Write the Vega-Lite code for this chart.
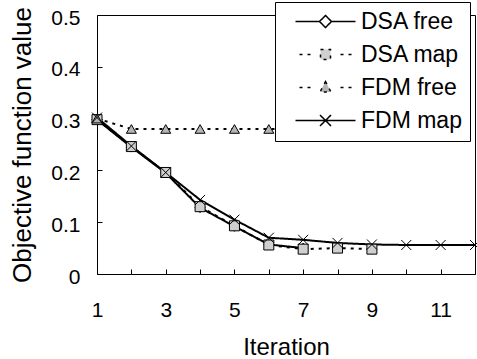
{
  "$schema": "https://vega.github.io/schema/vega-lite/v6.json",
  "width": 378,
  "height": 259,
  "autosize": "none",
  "padding": {"left": 97, "top": 15, "right": 2, "bottom": 85},
  "background": "white",
  "config": {
    "font": "Liberation Sans",
    "view": {"stroke": "black", "strokeWidth": 1},
    "axis": {
      "grid": false,
      "domain": false,
      "tickColor": "black",
      "tickSize": -5,
      "labelColor": "black",
      "titleColor": "black",
      "labelFontSize": 21,
      "titleFontSize": 24,
      "titleFontWeight": "normal",
      "labelFlush": false,
      "labelOverlap": false,
      "labelBound": false
    }
  },
  "data": {
    "values": [
      {"it": 1, "series": "DSA free", "v": 0.298},
      {"it": 2, "series": "DSA free", "v": 0.245},
      {"it": 3, "series": "DSA free", "v": 0.195},
      {"it": 4, "series": "DSA free", "v": 0.128},
      {"it": 5, "series": "DSA free", "v": 0.092},
      {"it": 6, "series": "DSA free", "v": 0.057},
      {"it": 7, "series": "DSA free", "v": 0.05},
      {"it": 1, "series": "DSA map", "v": 0.298},
      {"it": 2, "series": "DSA map", "v": 0.246},
      {"it": 3, "series": "DSA map", "v": 0.196},
      {"it": 4, "series": "DSA map", "v": 0.13},
      {"it": 5, "series": "DSA map", "v": 0.093},
      {"it": 6, "series": "DSA map", "v": 0.056},
      {"it": 7, "series": "DSA map", "v": 0.048},
      {"it": 8, "series": "DSA map", "v": 0.05},
      {"it": 9, "series": "DSA map", "v": 0.048},
      {"it": 1, "series": "FDM free", "v": 0.3},
      {"it": 2, "series": "FDM free", "v": 0.28},
      {"it": 3, "series": "FDM free", "v": 0.28},
      {"it": 4, "series": "FDM free", "v": 0.28},
      {"it": 5, "series": "FDM free", "v": 0.28},
      {"it": 6, "series": "FDM free", "v": 0.28},
      {"it": 7, "series": "FDM free", "v": 0.28},
      {"it": 8, "series": "FDM free", "v": 0.28},
      {"it": 9, "series": "FDM free", "v": 0.28},
      {"it": 10, "series": "FDM free", "v": 0.28},
      {"it": 1, "series": "FDM map", "v": 0.302},
      {"it": 2, "series": "FDM map", "v": 0.247},
      {"it": 3, "series": "FDM map", "v": 0.196},
      {"it": 4, "series": "FDM map", "v": 0.143},
      {"it": 5, "series": "FDM map", "v": 0.105},
      {"it": 6, "series": "FDM map", "v": 0.07},
      {"it": 7, "series": "FDM map", "v": 0.066},
      {"it": 8, "series": "FDM map", "v": 0.06},
      {"it": 9, "series": "FDM map", "v": 0.057},
      {"it": 10, "series": "FDM map", "v": 0.056},
      {"it": 11, "series": "FDM map", "v": 0.056},
      {"it": 12, "series": "FDM map", "v": 0.056}
    ]
  },
  "encoding": {
    "x": {
      "field": "it",
      "type": "quantitative",
      "title": "Iteration",
      "scale": {"domain": [1, 12], "nice": false},
      "axis": {
        "values": [1, 2, 3, 4, 5, 6, 7, 8, 9, 10, 11, 12],
        "labelExpr": "datum.value % 2 == 1 ? datum.label : ''",
        "labelPadding": 30,
        "titlePadding": 15
      }
    },
    "y": {
      "field": "v",
      "type": "quantitative",
      "title": "Objective function value",
      "scale": {"domain": [0, 0.5], "nice": false},
      "axis": {
        "values": [0, 0.1, 0.2, 0.3, 0.4, 0.5],
        "format": "~g",
        "labelPadding": 22,
        "labelOffset": 3,
        "titlePadding": 15,
        "titleFontSize": 26
      }
    }
  },
  "layer": [
    {
      "mark": {"type": "line", "color": "black", "strokeWidth": 2},
      "encoding": {
        "strokeDash": {
          "field": "series",
          "type": "nominal",
          "title": null,
          "scale": {
            "domain": ["DSA free", "DSA map", "FDM free", "FDM map"],
            "range": [[1, 0], [3, 5], [3, 5], [1, 0]]
          },
          "legend": {
            "orient": "none",
            "legendX": 178,
            "legendY": -13,
            "title": null,
            "strokeColor": "black",
            "fillColor": "white",
            "padding": 8,
            "labelFontSize": 23,
            "labelColor": "black",
            "symbolSize": 400,
            "symbolOffset": 31,
            "labelOffset": 24,
            "rowPadding": 9,
            "symbolStrokeWidth": 1.5,
            "symbolStrokeColor": "black",
            "encode": {
              "symbols": {
                "update": {
                  "size": {"value": 400},
                  "stroke": {"value": "black"},
                  "strokeWidth": {"value": 1.5},
                  "shape": {"signal": "datum.value === 'DSA free' ? 'M-3,0H-0.6M0.6,0H3M-0.6,0L0,-0.6L0.6,0L0,0.6Z' : datum.value === 'DSA map' ? 'M-2.6,0h0.3M-1.8,0h0.3M1.5,0h0.3M2.3,0h0.3M-0.5,-0.5H0.5V0.5H-0.5Z' : datum.value === 'FDM free' ? 'M-2.6,0h0.3M-1.8,0h0.3M1.5,0h0.3M2.3,0h0.3M0,-0.6L0.55,0.45H-0.55Z' : 'M-3,0H3M-0.55,-0.55L0.55,0.55M-0.55,0.55L0.55,-0.55'"},
                  "fill": {"signal": "datum.value === 'DSA free' ? 'white' : datum.value === 'DSA map' ? '#cfcfcf' : datum.value === 'FDM free' ? '#b5b5b5' : 'transparent'"}
                }
              }
            }
          }
        }
      }
    },
    {
      "mark": {"type": "point", "filled": true, "stroke": "black", "strokeWidth": 1, "size": 100, "opacity": 1},
      "encoding": {
        "fill": {
          "field": "series",
          "type": "nominal",
          "scale": {
            "range": ["white", "#cfcfcf", "#b5b5b5", "black"]
          },
          "legend": null
        },
        "shape": {
          "field": "series",
          "type": "nominal",
          "scale": {
            "range": ["diamond", "square", "triangle-up", "M-1,-1L1,1M-1,1L1,-1"]
          },
          "legend": null
        }
      }
    }
  ]
}
